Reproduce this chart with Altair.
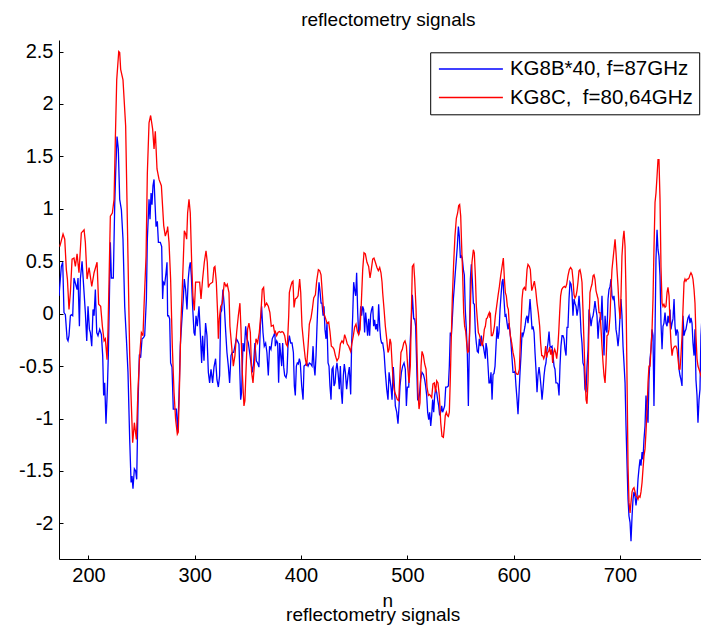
import altair as alt
import pandas as pd

LABEL_B = "KG8B*40, f=87GHz"
LABEL_R = "KG8C,\u00a0\u00a0f=80,64GHz"
COLORS = ["#0000ff", "#ff0000"]

x_ticks = [200, 300, 400, 500, 600, 700]
y_ticks = [-2, -1.5, -1, -0.5, 0, 0.5, 1, 1.5, 2, 2.5]
x_limits = [172.3, 776.25]
y_limits = [-2.34, 2.61]

# (n, value)
blue_points = [
    (172.3, 0.17), (174.5, 0.45), (175.8, 0.49), (177.0, 0.01), (178.3, -0.01), (179.9, -0.24),
    (180.8, -0.26), (181.7, -0.21), (183.0, -0.02), (183.9, -0.01), (185.2, -0.02), (186.4, 0.34),
    (187.7, 0.29), (189.3, 0.23), (190.2, 0.34), (191.5, -0.12), (192.4, 0.33), (194.0, 0.50),
    (195.5, 0.26), (197.1, 0.01), (198.4, -0.26), (199.6, 0.07), (200.9, -0.15), (201.8, -0.18),
    (203.1, -0.31), (204.3, 0.04), (205.3, -0.02), (206.5, 0.23), (207.8, -0.18), (209.0, -0.21),
    (210.6, -0.15), (212.2, -0.20), (213.4, -0.40), (214.3, -0.78), (215.3, -0.66), (216.5, -1.05),
    (217.8, -0.72), (218.7, -0.40), (219.7, 0.14), (220.6, 0.68), (221.6, 0.34), (223.4, 0.34),
    (224.7, 1.03), (225.6, 1.34), (226.9, 1.69), (228.1, 1.57), (229.4, 1.09), (231.0, 0.99),
    (232.5, 0.71), (234.1, 0.07), (235.7, -0.24), (237.2, -0.56), (238.8, -1.20), (240.1, -1.61),
    (241.0, -1.55), (241.9, -1.67), (243.2, -1.48), (244.4, -1.50), (245.4, -1.58), (246.6, -0.88),
    (247.9, -0.39), (249.1, -0.42), (250.4, -0.24), (251.7, -0.23), (252.9, -0.21), (254.5, 0.14),
    (255.4, 0.71), (257.0, 1.09), (257.9, 0.90), (258.9, 1.15), (259.8, 1.04), (260.7, 1.22),
    (261.7, 1.28), (262.6, 1.06), (263.6, 0.83), (264.8, 0.88), (265.8, 0.68), (267.6, 0.68),
    (268.9, 0.64), (269.8, 0.14), (270.5, 0.30), (271.7, 0.28), (273.0, 0.39), (273.9, 0.49),
    (274.5, -0.02), (275.4, -0.02), (276.4, -0.05), (277.3, -0.47), (278.6, -0.51), (279.8, -0.91),
    (281.4, -0.91), (282.7, -0.91), (283.9, -1.13), (285.2, -0.78), (286.4, -0.31), (287.7, -0.09),
    (289.2, 0.14), (290.2, 0.33), (291.4, 0.23), (292.7, 0.04), (293.9, 0.33), (294.9, 0.44),
    (295.8, 0.49), (296.8, 0.36), (298.0, 0.07), (299.3, -0.18), (300.2, -0.21), (301.2, -0.02),
    (302.4, -0.12), (304.0, 0.07), (305.2, -0.18), (306.5, -0.47), (307.4, -0.21), (308.7, -0.45),
    (310.2, -0.09), (311.5, -0.21), (312.8, -0.56), (314.0, -0.66), (315.3, -0.53), (316.8, -0.66),
    (318.1, -0.51), (319.6, -0.43), (320.9, -0.63), (322.2, -0.70), (323.4, -0.59), (324.4, 0.01),
    (325.3, 0.03), (326.5, 0.23), (327.8, 0.07), (329.1, -0.17), (330.3, -0.37), (331.6, -0.50),
    (332.8, -0.66), (334.1, -0.40), (335.3, -0.37), (336.6, -0.37), (337.8, -0.31), (339.1, -0.24),
    (340.3, -0.26), (341.6, -0.29), (343.2, -0.82), (344.1, -0.75), (345.4, -0.28), (346.6, -0.36),
    (347.9, -0.12), (349.1, -0.24), (350.4, -0.28), (351.6, -0.37), (352.9, -0.47), (354.1, -0.56),
    (355.4, -0.47), (356.6, -0.28), (357.9, -0.45), (359.1, -0.47), (360.4, -0.51), (361.7, -0.12),
    (362.9, 0.07), (364.2, -0.18), (365.4, -0.31), (366.7, -0.28), (367.9, -0.37), (369.2, -0.59),
    (370.4, -0.31), (371.7, -0.34), (372.9, -0.24), (374.2, -0.21), (375.4, -0.18), (375.8, -0.31),
    (377.1, -0.26), (378.0, -0.28), (378.9, -0.66), (379.9, -0.28), (380.9, -0.40), (381.8, -0.50),
    (382.7, -0.28), (383.7, -0.51), (384.6, -0.59), (385.9, -0.61), (386.8, -0.56), (387.7, -0.31),
    (389.0, -0.21), (390.3, -0.28), (391.5, -0.28), (392.8, -0.37), (393.7, -0.69), (394.6, -0.78),
    (395.6, -0.50), (396.5, -0.47), (397.5, -0.48), (398.4, -0.43), (399.3, -0.47), (400.6, -0.69),
    (401.9, -0.82), (402.8, -0.50), (404.0, -0.49), (405.3, -0.47), (406.6, -0.50), (407.8, -0.47),
    (409.1, -0.48), (410.3, -0.50), (411.3, -0.31), (412.2, -0.50), (413.1, -0.59), (414.1, -0.40),
    (415.0, -0.12), (416.0, 0.14), (416.9, 0.30), (417.8, 0.22), (418.8, 0.10), (419.7, 0.10),
    (420.7, -0.02), (421.6, 0.07), (422.5, -0.15), (423.5, -0.24), (424.4, -0.09), (425.4, -0.47),
    (426.3, -0.50), (427.2, -0.69), (428.2, -0.82), (429.1, -0.53), (430.1, -0.51), (431.0, -0.69),
    (432.0, -0.66), (432.9, -0.53), (433.8, -0.47), (434.8, -0.56), (436.0, -0.72), (437.0, -0.50),
    (437.9, -0.75), (438.8, -0.86), (439.8, -0.59), (440.7, -0.48), (441.7, -0.56), (442.9, -0.72),
    (444.2, -0.59), (445.4, -0.51), (446.7, -0.77), (447.6, -0.28), (448.6, -0.02), (449.5, 0.30),
    (450.4, 0.23), (451.4, 0.17), (452.3, 0.39), (453.3, 0.01), (454.2, -0.20), (455.1, -0.15),
    (456.1, 0.07), (457.0, -0.02), (458.0, 0.07), (458.9, 0.04), (459.8, -0.18), (460.8, 0.01),
    (461.7, -0.09), (462.6, -0.21), (463.6, -0.05), (464.5, -0.21), (465.5, -0.01), (466.4, 0.04),
    (467.4, 0.07), (468.3, -0.12), (469.2, -0.06), (470.2, -0.15), (471.1, -0.10), (472.1, -0.17),
    (473.0, 0.09), (474.0, -0.12), (474.9, -0.24), (475.8, -0.28), (476.8, -0.28), (478.1, -0.37),
    (479.3, -0.56), (480.6, -0.72), (481.8, -0.82), (482.8, -0.56), (483.7, -0.63), (484.6, -0.70),
    (485.6, -0.82), (486.8, -0.51), (487.8, -0.69), (488.7, -0.88), (490.0, -0.94), (491.2, -1.05),
    (492.2, -0.88), (493.1, -0.69), (494.4, -0.56), (495.6, -0.50), (496.9, -0.47), (498.1, -0.53),
    (499.1, -0.88), (500.0, -0.70), (501.3, -0.70), (502.5, -0.31), (503.8, -0.05), (504.7, 0.18),
    (506.0, -0.05), (506.9, -0.05), (507.8, -0.12), (508.8, -0.50), (509.7, -0.82), (510.7, -0.83),
    (511.6, -0.75), (512.5, -0.63), (513.8, -0.56), (515.1, -0.58), (516.3, -0.63), (517.2, -0.69),
    (518.2, -0.78), (519.1, -0.94), (520.1, -1.01), (521.0, -0.94), (522.0, -1.07), (522.9, -0.97),
    (523.8, -0.82), (524.8, -0.94), (525.7, -0.78), (526.7, -0.72), (527.6, -0.75), (528.5, -0.82),
    (529.5, -0.88), (530.4, -0.97), (531.4, -0.94), (532.3, -0.88), (533.2, -0.94), (534.2, -0.91),
    (535.1, -0.88), (536.1, -0.70), (537.3, -0.70), (538.6, -0.69), (539.5, -0.50), (540.4, -0.18),
    (541.4, -0.21), (542.3, -0.05), (543.3, 0.14), (544.2, 0.26), (545.1, 0.39), (546.1, 0.52),
    (547.0, 0.64), (548.0, 0.83), (548.9, 0.74), (549.9, 0.53), (550.8, 0.55), (551.7, 0.53),
    (552.7, 0.42), (553.6, 0.37), (554.5, 0.04), (555.5, -0.15), (556.4, -0.37), (557.4, -0.88),
    (558.3, -0.31), (559.3, 0.33), (560.2, 0.47), (561.1, 0.33), (562.1, 0.10), (563.0, 0.09),
    (564.0, -0.18), (564.9, -0.28), (565.8, -0.36), (566.8, -0.37), (567.7, -0.24), (568.7, -0.31),
    (569.6, -0.21), (570.5, -0.28), (571.5, -0.31), (572.4, -0.37), (573.4, -0.43), (574.0, -0.28),
    (575.0, -0.34), (575.9, -0.50), (576.8, -0.66), (577.8, -0.66), (578.7, -0.56), (579.7, -0.82),
    (580.6, -0.58), (581.5, -0.57), (582.5, -0.50), (583.4, -0.31), (584.4, -0.12), (585.3, -0.24),
    (586.2, -0.18), (587.2, 0.04), (588.1, 0.17), (589.1, 0.30), (590.0, 0.33), (590.9, 0.14),
    (591.9, -0.02), (592.8, -0.01), (593.8, -0.09), (594.7, -0.15), (595.6, -0.09), (596.6, -0.18),
    (597.5, -0.28), (598.5, -0.43), (599.4, -0.56), (600.4, -0.56), (601.3, -0.55), (602.2, -0.69),
    (603.2, -0.82), (604.1, -0.96), (605.1, -0.75), (606.0, -0.56), (606.9, -0.40), (607.9, -0.18),
    (608.8, -0.21), (609.8, -0.17), (610.7, -0.12), (611.6, -0.05), (612.6, -0.02), (613.5, -0.09),
    (614.5, 0.01), (615.4, 0.14), (616.3, 0.01), (617.3, -0.15), (618.2, -0.12), (619.2, -0.18),
    (620.1, -0.37), (621.0, -0.53), (622.0, -0.75), (622.9, -0.59), (623.9, -0.51), (624.8, -0.59),
    (625.7, -0.69), (626.7, -0.82), (627.6, -0.72), (628.6, -0.59), (629.5, -0.51), (630.4, -0.47),
    (631.4, -0.34), (632.3, -0.28), (633.3, -0.17), (634.2, -0.31), (635.1, -0.32), (636.1, -0.31),
    (637.0, -0.40), (638.0, -0.50), (638.9, -0.53), (639.8, -0.66), (640.8, -0.66), (641.7, -0.67),
    (642.7, -0.78), (643.6, -0.50), (644.5, -0.31), (645.5, -0.21), (646.4, -0.21), (647.4, -0.24),
    (648.3, -0.34), (649.3, -0.40), (650.2, -0.13), (651.1, -0.13), (652.1, 0.14), (653.0, 0.30),
    (654.0, 0.28), (654.9, 0.20), (655.8, -0.02), (656.8, 0.14), (657.7, 0.10), (658.7, 0.07),
    (659.6, -0.02), (660.5, 0.04), (661.5, 0.17), (662.4, 0.04), (663.4, -0.18), (664.3, -0.28),
    (665.2, -0.47), (666.2, -0.50), (667.1, -0.72), (668.1, -0.75), (669.0, -0.51), (670.0, -0.34),
    (670.9, 0.04), (671.8, -0.02), (672.8, -0.12), (673.7, -0.05), (674.7, -0.02), (675.6, 0.04),
    (676.5, 0.12), (677.5, 0.04), (678.4, -0.02), (679.4, -0.24), (680.3, -0.09), (681.3, -0.04),
    (682.2, -0.05), (683.1, 0.17), (684.1, -0.12), (685.0, -0.40), (686.0, -0.02), (686.9, -0.15),
    (687.8, -0.18), (688.8, 0.14), (689.7, 0.23), (690.7, 0.26), (691.6, 0.33), (692.5, 0.17),
    (693.5, 0.14), (694.4, 0.17), (695.4, 0.04), (696.3, -0.15), (697.2, -0.21), (698.2, -0.31),
    (699.1, -0.21), (700.1, -0.02), (701.0, 0.14), (701.9, -0.02), (702.9, -0.31), (703.8, -0.47),
    (704.8, -0.66), (705.7, -1.07), (706.7, -1.45), (707.6, -1.77), (708.5, -1.93), (709.5, -1.99),
    (710.4, -2.17), (711.4, -1.93), (712.3, -1.77), (713.2, -1.70), (714.2, -1.74), (715.1, -1.83),
    (716.1, -1.74), (717.0, -1.58), (717.9, -1.48), (718.9, -1.39), (719.8, -1.45), (720.8, -1.32),
    (721.7, -1.39), (722.6, -1.20), (723.6, -1.07), (724.5, -0.78), (725.5, -0.94), (726.4, -1.04),
    (727.3, -0.63), (728.3, -0.43), (729.2, -0.34), (730.2, -0.15), (731.1, -0.21), (732.0, -0.88),
    (733.0, -0.18), (733.9, 0.52), (734.9, 0.80), (735.8, 0.61), (736.7, 0.55), (737.7, 0.36),
    (738.6, -0.09), (739.6, -0.34), (740.5, -0.12), (741.4, -0.09), (742.4, 0.01), (743.3, -0.09),
    (744.3, -0.12), (745.2, -0.02), (746.2, -0.09), (747.1, 0.04), (748.0, -0.15), (749.0, -0.09),
    (749.9, -0.05), (750.9, 0.14), (751.8, -0.12), (752.7, -0.21), (753.7, -0.15), (754.6, -0.18),
    (755.6, -0.53), (756.5, -0.59), (757.4, -0.63), (758.4, -0.69), (759.3, -0.02), (760.3, -0.21),
    (761.2, -0.17), (762.1, -0.15), (763.1, -0.09), (764.0, -0.04), (765.0, -0.02), (765.9, -0.09),
    (766.8, -0.04), (767.8, -0.09), (768.7, -0.28), (769.7, -0.40), (770.6, -0.15), (771.5, -0.63),
    (772.5, -0.78), (773.4, -1.04), (774.4, -0.82), (775.3, -0.72), (776.2, -0.21), (777.2, -0.02),
    (778.1, -0.05), (779.1, -0.15), (780.0, -0.28), (780.9, -0.21), (781.9, -0.21), (782.8, -0.50),
    (783.8, -0.47),
]

red_points = [
    (173.0, 0.64), (176.1, 0.76), (177.7, 0.71), (179.2, 0.42), (180.2, 0.33), (181.7, 0.04),
    (183.0, 0.20), (184.6, 0.52), (186.4, 0.53), (187.7, 0.45), (189.3, 0.57), (191.1, 0.39),
    (193.3, 0.77), (195.9, 0.80), (197.1, 0.68), (198.7, 0.33), (200.6, 0.44), (203.1, 0.26),
    (205.3, 0.39), (208.1, 0.49), (209.6, 0.09), (211.5, 0.07), (213.1, -0.12), (214.7, -0.26),
    (215.9, -0.24), (217.5, -0.44), (218.4, -0.15), (219.4, 0.33), (220.6, 0.93), (222.5, 0.96),
    (224.1, 1.09), (225.3, 1.66), (226.6, 2.23), (228.5, 2.50), (229.4, 2.49), (230.3, 2.33),
    (232.5, 2.23), (235.0, 1.79), (236.9, 0.71), (238.8, -0.40), (240.4, -0.88), (241.6, -1.23),
    (243.2, -1.04), (245.1, -1.20), (246.6, -0.72), (248.2, -0.40), (249.8, -0.18), (251.3, -0.21),
    (252.3, 0.07), (254.2, 0.55), (255.4, 1.34), (257.0, 1.82), (258.5, 1.89), (260.4, 1.76),
    (261.7, 1.57), (262.9, 1.74), (264.5, 1.38), (266.4, 1.28), (268.6, 1.22), (270.8, 0.84),
    (272.3, 0.74), (274.2, 0.80), (274.5, 0.83), (275.8, 0.68), (277.3, 0.33), (278.9, -0.31),
    (280.5, -0.75), (282.0, -1.01), (283.6, -1.15), (284.5, -1.13), (285.8, -0.63), (287.0, -0.09),
    (288.6, 0.33), (290.2, 0.79), (291.4, 0.76), (292.4, 0.71), (293.3, 0.96), (294.6, 1.09),
    (295.8, 0.96), (297.1, 0.49), (298.3, 0.17), (299.6, 0.03), (300.8, 0.30), (302.4, 0.30),
    (304.6, 0.30), (305.9, 0.14), (307.4, 0.33), (309.0, 0.49), (310.6, 0.60), (311.8, 0.49),
    (312.8, 0.25), (314.0, 0.28), (315.3, 0.29), (316.8, 0.30), (318.1, 0.44), (319.0, 0.45),
    (320.3, 0.30), (321.5, 0.01), (322.2, -0.24), (323.1, -0.05), (324.4, 0.07), (325.9, 0.10),
    (327.8, 0.30), (329.4, 0.26), (330.6, 0.28), (332.2, 0.20), (333.1, -0.12), (334.7, -0.31),
    (336.3, -0.50), (337.8, -0.40), (339.4, -0.18), (341.0, -0.02), (342.5, 0.10), (343.5, -0.15),
    (344.7, -0.56), (346.3, -0.88), (347.2, -0.83), (348.5, -0.47), (349.7, -0.15), (351.0, -0.09),
    (352.3, -0.18), (353.5, -0.56), (354.8, -0.66), (356.0, -0.50), (357.6, -0.24), (359.1, -0.28),
    (360.7, -0.18), (362.3, 0.01), (363.5, 0.23), (364.8, 0.25), (366.0, 0.07), (367.6, 0.10),
    (369.2, 0.07), (370.7, 0.01), (372.0, -0.12), (373.9, -0.11), (375.1, -0.18), (375.8, -0.17),
    (377.1, -0.21), (378.3, -0.18), (379.6, -0.17), (380.9, -0.18), (382.1, -0.17), (383.4, -0.18),
    (384.6, -0.21), (385.9, -0.29), (387.1, -0.31), (388.4, -0.02), (389.0, 0.20), (390.3, 0.26),
    (391.5, 0.30), (392.4, 0.31), (393.4, 0.06), (394.6, 0.14), (395.9, 0.15), (397.2, 0.17),
    (398.7, 0.33), (399.7, 0.20), (400.9, -0.12), (402.5, -0.29), (404.0, -0.43), (405.3, -0.50),
    (406.6, -0.31), (407.8, -0.10), (409.4, -0.04), (410.6, 0.04), (411.9, 0.15), (413.5, 0.18),
    (414.7, 0.31), (416.3, 0.42), (417.5, 0.41), (418.8, 0.37), (420.0, 0.20), (421.3, 0.01),
    (422.9, -0.04), (424.4, -0.09), (426.0, -0.08), (427.2, -0.17), (428.5, -0.31), (429.8, -0.32),
    (431.0, -0.34), (432.3, -0.40), (433.8, -0.45), (435.4, -0.42), (437.0, -0.29), (438.5, -0.26),
    (439.8, -0.28), (441.0, -0.20), (442.3, -0.24), (443.5, -0.29), (444.8, -0.31), (446.7, -0.36),
    (447.9, -0.28), (449.2, -0.21), (450.4, -0.13), (451.7, -0.10), (453.0, -0.17), (454.2, -0.20),
    (455.5, -0.15), (456.7, 0.10), (458.0, 0.42), (459.2, 0.58), (460.5, 0.57), (462.0, 0.49),
    (463.6, 0.45), (464.9, 0.34), (466.1, 0.42), (467.4, 0.52), (468.6, 0.53), (469.9, 0.49),
    (471.4, 0.44), (472.7, 0.41), (474.0, 0.44), (475.2, 0.39), (476.2, 0.30), (476.8, 0.20),
    (478.1, 0.04), (479.3, -0.12), (480.6, -0.24), (481.8, -0.37), (482.8, -0.34), (483.7, -0.24),
    (484.6, -0.28), (485.6, -0.47), (486.8, -0.66), (488.1, -0.75), (489.3, -0.78), (490.6, -0.82),
    (491.9, -0.83), (493.1, -0.56), (494.0, -0.37), (495.3, -0.34), (496.6, -0.28), (497.8, -0.26),
    (499.1, -0.31), (500.3, -0.50), (501.6, -0.66), (502.8, -0.50), (503.8, 0.01), (504.7, 0.45),
    (506.0, 0.47), (506.9, 0.33), (508.2, 0.04), (509.1, -0.37), (510.0, -0.75), (511.0, -0.91),
    (511.9, -0.85), (512.9, -0.50), (513.8, -0.36), (515.1, -0.40), (516.3, -0.48), (517.6, -0.53),
    (518.5, -0.70), (519.8, -0.78), (520.7, -0.77), (521.6, -0.78), (522.9, -0.80), (524.1, -0.67),
    (525.4, -0.66), (526.6, -0.75), (527.6, -0.64), (528.8, -0.66), (530.1, -0.78), (531.4, -1.04),
    (532.6, -1.17), (533.9, -1.18), (534.8, -1.09), (535.7, -0.97), (536.7, -0.94), (537.6, -0.97),
    (538.6, -0.98), (539.5, -0.94), (540.4, -0.63), (541.4, -0.21), (542.3, 0.14), (543.6, 0.49),
    (544.8, 0.74), (546.1, 0.91), (547.3, 0.96), (548.3, 1.03), (549.2, 1.04), (550.2, 0.93),
    (551.1, 0.64), (552.0, 0.39), (553.0, 0.01), (553.9, -0.12), (554.9, -0.17), (555.8, -0.28),
    (556.7, -0.37), (557.7, -0.36), (558.6, -0.18), (559.6, 0.17), (560.8, 0.49), (562.1, 0.61),
    (563.0, 0.58), (564.0, 0.36), (564.9, 0.07), (565.8, -0.05), (566.8, -0.18), (567.7, -0.20),
    (568.7, -0.24), (569.6, -0.28), (570.5, -0.31), (571.5, -0.24), (572.4, -0.15), (573.4, -0.12),
    (574.3, -0.05), (575.2, -0.04), (576.2, -0.01), (577.1, 0.01), (577.8, -0.04), (578.1, 0.01),
    (579.0, -0.21), (580.0, -0.21), (580.9, -0.18), (581.9, -0.12), (582.8, -0.02), (584.0, 0.07),
    (585.3, 0.17), (586.6, 0.26), (587.8, 0.36), (589.1, 0.45), (590.3, 0.53), (591.3, 0.33),
    (592.2, 0.20), (593.1, 0.17), (594.1, 0.07), (595.0, 0.04), (596.0, -0.12), (596.9, -0.21),
    (598.2, -0.28), (599.4, -0.37), (600.7, -0.43), (601.9, -0.56), (603.2, -0.58), (604.1, -0.58),
    (605.4, -0.53), (606.6, -0.18), (607.9, 0.14), (608.8, 0.23), (610.1, 0.25), (611.3, 0.22),
    (612.6, 0.42), (613.5, 0.47), (614.8, 0.45), (615.7, 0.42), (617.0, 0.22), (618.2, 0.26),
    (619.5, 0.31), (620.7, 0.23), (622.0, 0.10), (623.2, 0.01), (624.5, -0.12), (625.4, -0.28),
    (626.4, -0.40), (627.3, -0.40), (628.3, -0.43), (629.2, -0.40), (630.1, -0.31), (631.1, -0.42),
    (632.0, -0.37), (633.0, -0.36), (633.9, -0.32), (634.8, -0.39), (635.8, -0.34), (636.7, -0.47),
    (637.7, -0.37), (638.6, -0.34), (639.5, -0.37), (640.5, -0.43), (641.4, -0.34), (642.4, -0.18),
    (643.3, 0.01), (644.2, 0.17), (645.2, 0.23), (646.4, 0.25), (647.7, 0.26), (648.9, 0.25),
    (649.9, 0.28), (651.1, 0.36), (652.4, 0.42), (653.6, 0.44), (654.9, 0.42), (655.8, 0.33),
    (656.8, 0.18), (657.7, 0.15), (658.7, 0.17), (659.6, 0.22), (660.5, 0.30), (661.5, 0.41),
    (662.4, 0.42), (663.4, 0.37), (664.3, 0.30), (665.2, 0.04), (666.2, -0.28), (667.1, -0.56),
    (668.1, -0.82), (669.0, -0.86), (670.0, -0.63), (670.9, -0.09), (671.8, 0.20), (672.8, 0.25),
    (673.7, 0.28), (674.7, 0.36), (675.6, 0.37), (676.5, 0.33), (677.5, 0.22), (678.4, 0.18),
    (679.4, 0.14), (680.3, 0.01), (681.3, 0.01), (682.2, -0.15), (683.1, -0.31), (684.1, -0.47),
    (685.0, -0.59), (686.0, -0.66), (686.9, -0.47), (687.8, -0.21), (688.8, -0.20), (689.7, -0.15),
    (690.7, -0.02), (691.6, 0.23), (692.5, 0.42), (693.5, 0.52), (694.4, 0.61), (695.4, 0.71),
    (696.3, 0.58), (697.2, 0.42), (698.2, 0.26), (699.1, 0.07), (700.1, -0.05), (701.0, 0.17),
    (701.9, 0.55), (702.9, 0.71), (703.8, 0.79), (704.8, 0.64), (705.7, 0.20), (706.7, -0.66),
    (707.6, -1.45), (708.5, -1.80), (709.5, -1.90), (710.4, -1.80), (711.4, -1.70), (712.3, -1.67),
    (713.2, -1.66), (714.2, -1.70), (715.1, -1.74), (716.1, -1.75), (717.0, -1.77), (717.9, -1.74),
    (718.9, -1.75), (719.8, -1.70), (720.8, -1.61), (721.7, -1.48), (722.6, -1.36), (723.6, -1.29),
    (724.5, -1.13), (725.5, -0.91), (726.4, -0.66), (727.3, -0.50), (728.3, -0.50), (729.2, -0.34),
    (730.2, -0.15), (731.1, 0.14), (732.0, 0.61), (733.0, 1.06), (733.9, 1.15), (734.9, 1.31),
    (735.8, 1.47), (736.7, 1.47), (737.7, 1.09), (738.6, 0.45), (739.6, 0.10), (740.5, 0.07),
    (741.4, 0.09), (742.4, 0.06), (743.3, 0.07), (744.3, 0.20), (745.2, 0.25), (746.2, 0.17),
    (747.1, -0.09), (748.0, -0.28), (749.0, -0.40), (749.9, -0.34), (750.9, -0.32), (751.8, -0.31),
    (752.7, -0.31), (753.7, -0.34), (754.6, -0.43), (755.6, -0.53), (756.5, -0.53), (757.4, -0.40),
    (758.4, -0.21), (759.3, 0.04), (760.3, 0.30), (761.2, 0.33), (762.1, 0.31), (763.1, 0.33),
    (764.0, 0.33), (765.0, 0.34), (765.9, 0.37), (766.8, 0.39), (767.8, 0.37), (768.7, 0.33),
    (769.7, 0.23), (770.6, 0.10), (771.5, -0.21), (772.5, -0.43), (773.4, -0.50), (774.4, -0.53),
    (775.3, -0.56), (776.2, -0.59), (777.2, -0.63), (778.1, -0.28), (779.1, -0.12), (780.0, -0.09),
    (780.9, -0.15), (781.9, -0.12), (782.8, -0.09), (783.8, -0.10),
]

df_b = pd.DataFrame(blue_points, columns=["n", "v"])
df_b["series"] = LABEL_B
df_r = pd.DataFrame(red_points, columns=["n", "v"])
df_r["series"] = LABEL_R

W, H = 642, 519
FONT = "Liberation Sans"

xs = alt.Scale(domain=x_limits, nice=False, zero=False)
ys = alt.Scale(domain=y_limits, nice=False, zero=False)
cs = alt.Scale(domain=[LABEL_B, LABEL_R], range=COLORS)

leg = alt.Legend(
    title=None, orient="none", legendX=371.2, legendY=12.3,
    symbolType="stroke", symbolSize=4096, symbolStrokeWidth=1.3, symbolOffset=2,
    labelOffset=6, labelFontSize=20.5, labelFont=FONT, labelColor="black",
    labelLimit=0, labelBaseline="middle", clipHeight=22, rowPadding=6.5, padding=5.7,
    strokeColor="black", fillColor="white", cornerRadius=0,
)

x_main = alt.Axis(
    values=x_ticks, ticks=False, tickSize=0, labelPadding=6.5, labelFontSize=20,
    labelFont=FONT, labelFlush=False, domainColor="black", domainWidth=1, grid=False,
    title="n", titleFontSize=19, titleFont=FONT, titleFontWeight="normal",
    titleX=328.2, titleY=47.5, titleBaseline="alphabetic", titleAlign="center",
)
y_main = alt.Axis(
    values=y_ticks, ticks=False, tickSize=0, labelPadding=6, labelFontSize=20,
    labelFont=FONT, labelExpr="toString(datum.value)", domainColor="black",
    domainWidth=1, grid=False, title=None,
)
x_tick = alt.Axis(
    orient="top", offset=-H, values=x_ticks, labels=False, domain=False, ticks=True,
    tickSize=4, tickColor="black", grid=False, minExtent=0, maxExtent=0,
    title="reflectometry signals", titleFontSize=19, titleFont=FONT,
    titleFontWeight="normal", titleX=313.7, titleY=61.5, titleBaseline="alphabetic",
    titleAlign="center",
)
y_tick = alt.Axis(
    orient="right", offset=-W, values=y_ticks, labels=False, domain=False, ticks=True,
    tickSize=4, tickColor="black", grid=False, title=None, minExtent=0, maxExtent=0,
)

blue = alt.Chart(df_b).mark_line(strokeWidth=1.3, clip=True).encode(
    x=alt.X("n:Q", scale=xs, axis=x_main),
    y=alt.Y("v:Q", scale=ys, axis=y_main),
    color=alt.Color("series:N", scale=cs, legend=leg),
)
red = alt.Chart(df_r).mark_line(strokeWidth=1.3, clip=True).encode(
    x=alt.X("n:Q", scale=xs, axis=x_tick),
    y=alt.Y("v:Q", scale=ys, axis=y_tick),
    color=alt.Color("series:N", scale=cs, legend=leg),
)

chart = (
    alt.layer(blue, red)
    .resolve_axis(x="independent", y="independent")
    .properties(
        width=W, height=H,
        title=alt.TitleParams(
            text="reflectometry signals", font=FONT, fontSize=19, fontWeight="normal",
            color="black", anchor="middle", frame="group", baseline="alphabetic",
            offset=15, dx=8.3, dy=20,
        ),
        autosize=alt.AutoSizeParams(type="none"),
        padding={"left": 51, "top": 32, "right": 0, "bottom": 66},
    )
    .configure_view(stroke=None)
    .configure_axis(labelColor="black", titleColor="black", tickColor="black")
)

chart.save("out.html", embed_options={"renderer": "svg", "actions": False})
